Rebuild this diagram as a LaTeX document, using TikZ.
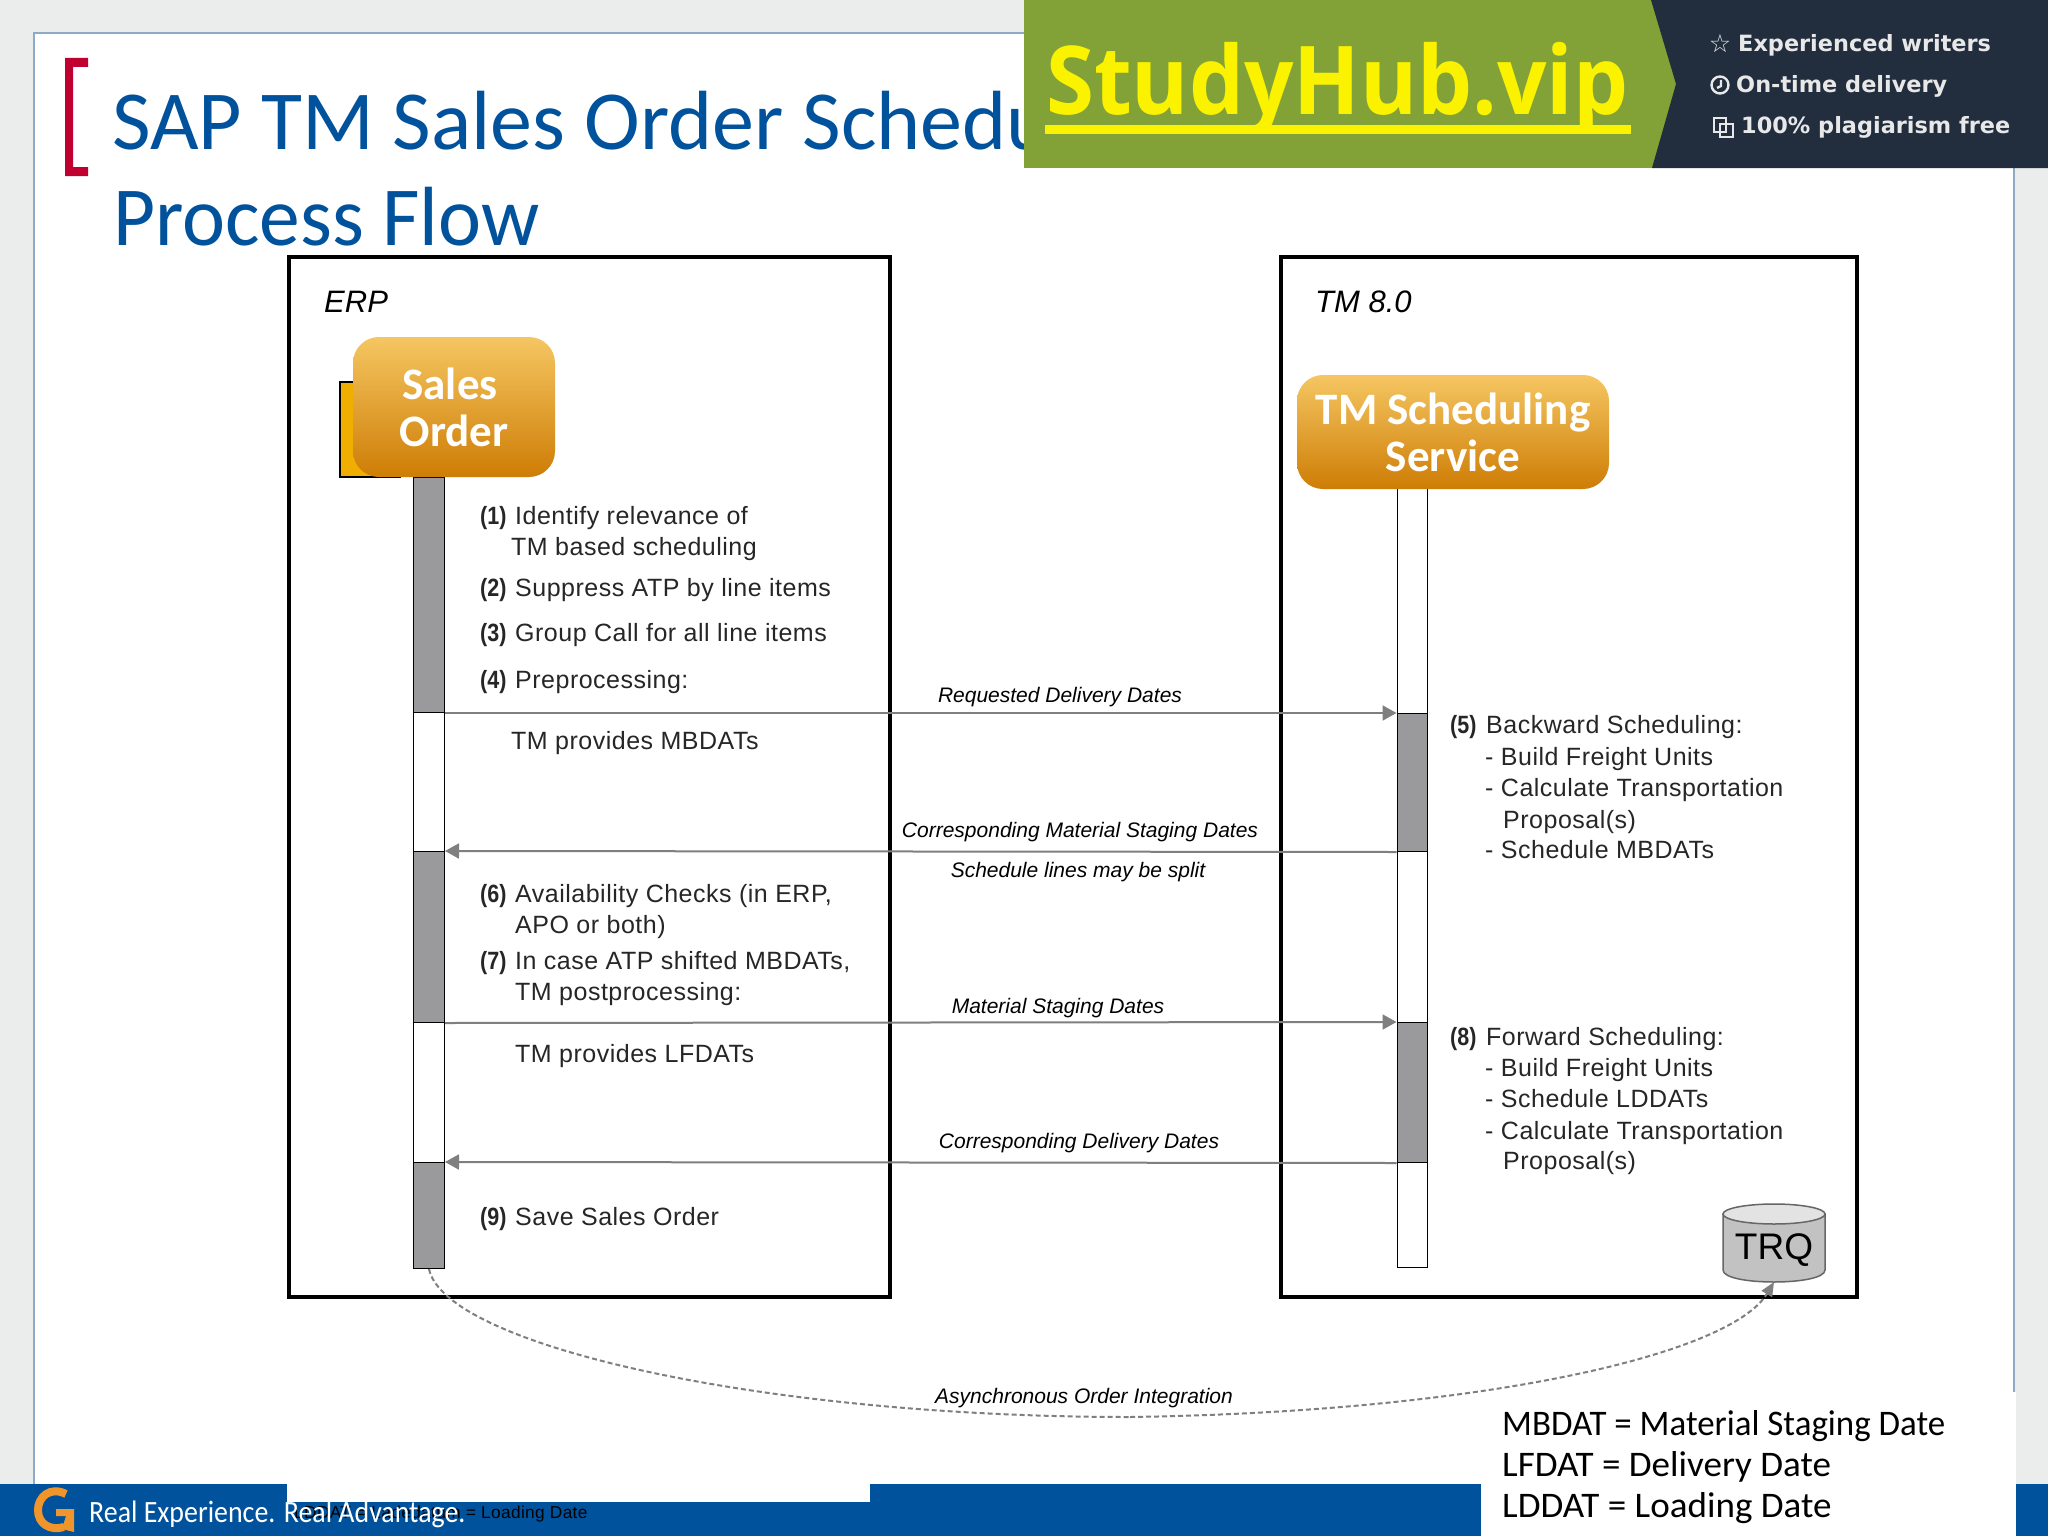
\documentclass[tikz,border=0pt]{standalone}
\usepackage{fontspec}
\usepackage{xcolor}
\usetikzlibrary{positioning, arrows.meta}
\setmainfont{Liberation Sans}
\newfontfamily\stepfont[LetterSpace=2]{Liberation Sans}
\newfontfamily\numfont[FakeStretch=0.86]{Liberation Sans}
\newfontfamily\slidefont{Carlito}
\newfontfamily\slidetight[FakeStretch=0.97]{Carlito}
\newfontfamily\slidewide[FakeStretch=1.03]{Carlito}
\newfontfamily\footfont[FakeStretch=0.9]{Carlito}
\newfontfamily\hubfont[FakeStretch=0.916]{Open Sans}
\newfontfamily\promofont{DejaVu Sans}
\definecolor{slidegray}{HTML}{EBECEC}
\definecolor{slideblue}{HTML}{00529C}
\definecolor{edgeblue}{HTML}{8FAAC6}
\definecolor{bracketred}{HTML}{C00030}
\definecolor{boxtop}{HTML}{F5C662}
\definecolor{boxbottom}{HTML}{CE7D05}
\definecolor{docyellow}{HTML}{F0AE00}
\definecolor{bannergreen}{HTML}{82A238}
\definecolor{bannerdark}{HTML}{222E3E}
\definecolor{flowgray}{HTML}{7F7F7F}
\definecolor{seggray}{HTML}{9A999B}
\definecolor{hubyellow}{HTML}{FBF200}
\definecolor{promowhite}{HTML}{E8E8E8}
\definecolor{logoorange}{HTML}{F0952B}
\tikzset{
  framebox/.style={draw=black, line width=4pt},
  servicebox/.style={rounded corners=26pt, top color=boxtop, bottom color=boxbottom, text=white,
    font=\slidefont\bfseries\fontsize{45}{47}\selectfont, align=center, inner sep=0pt},
  lifegray/.style={draw=black, line width=1pt, fill=seggray, minimum width=30pt, inner sep=0pt, anchor=north},
  lifewhite/.style={lifegray, fill=white},
  flow/.style={draw=flowgray, line width=2pt, -{Triangle[length=14pt,width=15pt]}},
  asyncline/.style={draw=flowgray, line width=2pt, dash pattern=on 5pt off 3pt},
  steptext/.style={anchor=base west, inner sep=0pt, text=black!85, font=\stepfont\fontsize{25}{25}\selectfont},
  stepnum/.style={steptext, font=\numfont\bfseries\fontsize{25}{25}\selectfont},
  flowlabel/.style={anchor=base, inner sep=0pt, font=\itshape\fontsize{21}{21}\selectfont},
  pagetext/.style={anchor=base west, inner sep=0pt, font=\slidewide\fontsize{36}{36}\selectfont},
  titletext/.style={anchor=base west, inner sep=0pt, text=slideblue, font=\slidefont\fontsize{84}{84}\selectfont},
  promo/.style={anchor=base west, inner sep=0pt, text=promowhite, font=\promofont\bfseries\fontsize{22.4}{24}\selectfont},
}
\begin{document}
\begin{tikzpicture}[x=1pt, y=-1pt]
    % page
    \fill[slidegray] (0,0) rectangle (2048,1536);
    \useasboundingbox (0,0) rectangle (2048,1536);
    \fill[white] (34,33) rectangle (2014,1484);
    \draw[edgeblue, line width=1.2pt] (34,1484) -- (34,33) -- (2014,33) -- (2014,1392);
    \fill[slideblue] (0,1484) rectangle (2048,1536);
    \fill[white] (287,1484) rectangle (870,1502);
    \fill[white] (1481,1392) rectangle (2016,1536);

    % title
    \fill[bracketred] (65,58) -- (88,58) -- (88,67) -- (73,67) -- (73,167) -- (88,167) -- (88,176) -- (65,176) -- cycle;
    \node[titletext] (title1) at (112,149.5) {SAP TM Sales Order Schedu};
    \node[titletext, font=\slidetight\fontsize{84}{84}\selectfont] (title2) at (113,245) {Process Flow};

    % banner
    \fill[bannergreen] (1024,0) rectangle (1680,168);
    \fill[bannerdark] (1651,0) -- (2048,0) -- (2048,168) -- (1652,168) -- (1676,84) -- cycle;
    \begin{scope}
        \clip (1024,0) rectangle (1676,130);
        \node[anchor=base west, inner sep=0pt, text=hubyellow, font=\hubfont\bfseries\fontsize{95}{95}\selectfont] (hub) at (1046,115) {StudyHub.vip};
    \end{scope}
    \fill[hubyellow] (1045,125) rectangle (1631,134);
    \node[promo] (w1) at (1738,52) {Experienced writers};
    \node[promo] (w2) at (1736,93) {On-time delivery};
    \node[promo] (w3) at (1741,134) {100\% plagiarism free};
    \node[anchor=base, inner sep=0pt, text=promowhite, font=\promofont\bfseries\fontsize{25}{25}\selectfont] (star) at (1720,53) {☆};
    \draw[promowhite, line width=2.4pt] (1720,85) circle (8.5) (1721,80) -- (1721,86) -- (1717,88);
    \draw[promowhite, line width=1.8pt] (1714,118) rectangle (1726,132) (1720,124) rectangle (1733,137);

    % erp side
    \draw[framebox] (289,257) rectangle (890,1297);
    \node[flowlabel, anchor=base west, font=\itshape\fontsize{31}{31}\selectfont] (erp) at (324,312) {ERP};
    \draw[black, line width=2pt, fill=docyellow] (340,382) rectangle (400,477);
    \node[lifegray, minimum width=31pt, minimum height=235pt] (erpa) at (429,477) {};
    \node[lifewhite, minimum width=31pt, minimum height=139pt] (erpb) at (429,712) {};
    \node[lifegray, minimum width=31pt, minimum height=171pt] (erpc) at (429,851) {};
    \node[lifewhite, minimum width=31pt, minimum height=140pt] (erpd) at (429,1022) {};
    \node[lifegray, minimum width=31pt, minimum height=106pt] (erpe) at (429,1162) {};
    \node[servicebox, minimum width=202pt, minimum height=140pt] (sales) at (454,407) {Sales\hspace*{8pt}\\Order};

    % tm side
    \draw[framebox] (1281,257) rectangle (1857,1297);
    \node[flowlabel, anchor=base west, font=\itshape\fontsize{31}{31}\selectfont] (tm) at (1315,312) {TM 8.0};
    \node[lifewhite, minimum height=228pt] (tma) at (1412,485) {};
    \node[lifegray, minimum height=138pt] (tmb) at (1412,713) {};
    \node[lifewhite, minimum height=171pt] (tmc) at (1412,851) {};
    \node[lifegray, minimum height=140pt] (tmd) at (1412,1022) {};
    \node[lifewhite, minimum height=105pt] (tme) at (1412,1162) {};
    \node[servicebox, minimum width=312pt, minimum height=114pt] (sched) at (1453,432) {TM Scheduling\\Service};

    % trq store
    \coordinate (trqbase) at (1774,1282);
    \draw[draw=black!60, line width=1.5pt, fill=black!24] (1723,1214) -- (1723,1270) .. controls (1723,1286) and (1825,1286) .. (1825,1270) -- (1825,1214) -- cycle;
    \draw[draw=black!60, line width=1.5pt, fill=black!11] (1774,1214) ellipse [x radius=51pt, y radius=10pt];
    \node[anchor=base, inner sep=0pt, font=\fontsize{37}{37}\selectfont] (trqtext) at (1774,1259) {TRQ};

    % numbered steps
    \foreach \n/\x/\y in {1/480/524, 2/480/596, 3/480/641, 4/480/688, 6/480/902, 7/480/969, 9/480/1225, 5/1450/733, 8/1450/1045}
        \node[stepnum] (num\n) at (\x,\y) {(\n)};
    \node[steptext] (s1) at (515,524) {Identify relevance of};
    \node[steptext] (s1b) at (511,555) {TM based scheduling};
    \node[steptext] (s2) at (515,596) {Suppress ATP by line items};
    \node[steptext] (s3) at (515,641) {Group Call for all line items};
    \node[steptext] (s4) at (515,688) {Preprocessing:};
    \node[steptext] (s4b) at (511,749) {TM provides MBDATs};
    \node[steptext] (s6) at (515,902) {Availability Checks (in ERP,};
    \node[steptext] (s6b) at (515,933) {APO or both)};
    \node[steptext] (s7) at (515,969) {In case ATP shifted MBDATs,};
    \node[steptext] (s7b) at (515,1000) {TM postprocessing:};
    \node[steptext] (s7c) at (515,1062) {TM provides LFDATs};
    \node[steptext] (s9) at (515,1225) {Save Sales Order};
    \node[steptext] (s5) at (1486,733) {Backward Scheduling:};
    \node[steptext] (s5a) at (1485,765) {- Build Freight Units};
    \node[steptext] (s5b) at (1485,796) {- Calculate Transportation};
    \node[steptext] (s5c) at (1503,828) {Proposal(s)};
    \node[steptext] (s5d) at (1485,858) {- Schedule MBDATs};
    \node[steptext] (s8) at (1486,1045) {Forward Scheduling:};
    \node[steptext] (s8a) at (1485,1076) {- Build Freight Units};
    \node[steptext] (s8b) at (1485,1107) {- Schedule LDDATs};
    \node[steptext] (s8c) at (1485,1139) {- Calculate Transportation};
    \node[steptext] (s8d) at (1503,1169) {Proposal(s)};

    % messages
    \draw[flow] (erpa.south east) -- (tmb.north west);
    \draw[flow] (tmb.south west) -- (erpc.north east);
    \draw[flow] (erpc.south east) -- (tmd.north west);
    \draw[flow] (tmd.south west) -- (erpe.north east);
    \node[flowlabel] (m1) at (1060,702) {Requested Delivery Dates};
    \node[flowlabel] (m2) at (1080,837) {Corresponding Material Staging Dates};
    \node[flowlabel] (m3) at (1078,877) {Schedule lines may be split};
    \node[flowlabel] (m4) at (1058,1013) {Material Staging Dates};
    \node[flowlabel] (m5) at (1079,1148) {Corresponding Delivery Dates};
    \node[flowlabel] (m6) at (1084,1403) {Asynchronous Order Integration};

    % async link
    \coordinate (asyncmid) at (1130,1417);
    \draw[asyncline] (erpe.south) .. controls (445,1345) and (760,1417) .. (asyncmid);
    \draw[asyncline, -{Triangle[length=14pt,width=12pt]}] (asyncmid) .. controls (1480,1412) and (1730,1355) .. (trqbase);

    % legend
    \node[pagetext, font=\slidetight\fontsize{36}{36}\selectfont] (l1) at (1502,1435) {MBDAT = Material Staging Date};
    \node[pagetext] (l2) at (1502,1476) {LFDAT = Delivery Date};
    \node[pagetext] (l3) at (1502,1517) {LDDAT = Loading Date};

    % footer
    \draw[logoorange, line width=8pt] (66,1494) .. controls (50,1486) and (38,1497) .. (38,1510) .. controls (38,1524) and (50,1531) .. (64,1527);
    \fill[logoorange] (56,1509) -- (74,1509) -- (74,1532) -- (62,1529) -- (66,1516) -- (56,1516) -- cycle;
    \node[anchor=base west, inner sep=0pt, text=black, font=\stepfont\fontsize{17.3}{18}\selectfont] (foot2) at (294,1518) {LDDAT = Ladedatum = Loading Date};
    \node[pagetext, text=white, font=\footfont\fontsize{31}{31}\selectfont] (foot) at (89,1522) {Real Experience. Real Advantage.};
\end{tikzpicture}
\end{document}
